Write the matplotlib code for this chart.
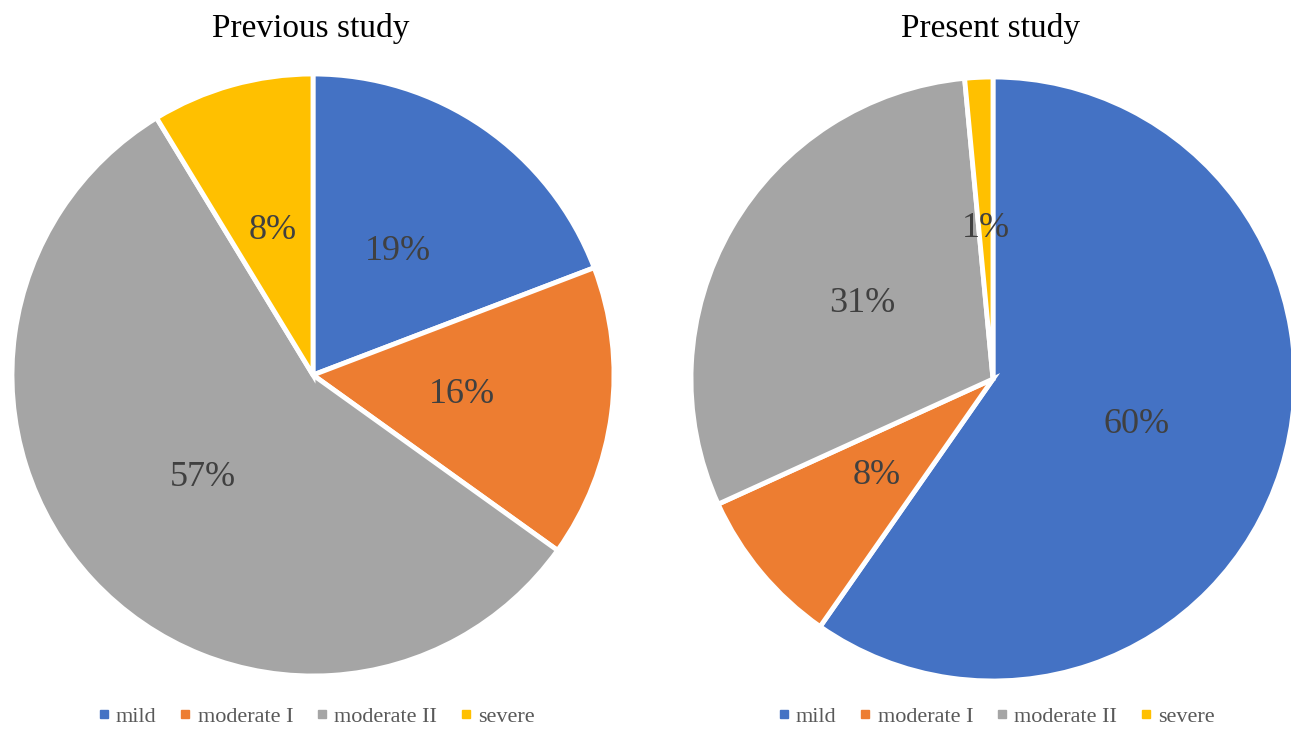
import matplotlib
matplotlib.use("Agg")
import numpy as np
import matplotlib.pyplot as plt
from matplotlib.lines import Line2D

plt.rcParams['font.family'] = ['Liberation Serif', 'DejaVu Serif']

categories = ["mild", "moderate I", "moderate II", "severe"]
colors = ["#4472C4", "#ED7D31", "#A5A5A5", "#FFC000"]

previous_values = [19.2, 15.7, 56.4, 8.7]
previous_labels = ["19%", "16%", "57%", "8%"]

present_values = [59.7, 8.5, 30.3, 1.5]
present_labels = ["60%", "8%", "31%", "1%"]

W, H = 1291, 729
fig = plt.figure(figsize=(W / 100, H / 100), dpi=100)


def draw(cx, cy, r, values, labels, title, title_x, legend_cx):
    ax = fig.add_axes([(cx - r) / W, (H - cy - r) / H, 2 * r / W, 2 * r / H])
    wedges, _ = ax.pie(values, colors=colors, startangle=90, counterclock=False,
                       wedgeprops=dict(edgecolor="white", linewidth=3.5))
    for w, lab in zip(wedges, labels):
        ang = np.deg2rad((w.theta1 + w.theta2) / 2)
        ax.text(0.5 * np.cos(ang), 0.5 * np.sin(ang), lab, ha="center", va="center",
                fontsize=26, color="#404040")
    ax.set_xlim(-1, 1)
    ax.set_ylim(-1, 1)
    ax.set_aspect("equal")
    ax.axis("off")
    fig.text(title_x / W, 1 - 29 / H, title, ha="center", va="center", fontsize=24, color="#000000")
    handles = [Line2D([], [], marker="s", linestyle="none", markersize=6,
                      markerfacecolor=c, markeredgecolor=c) for c in colors]
    fig.legend(handles, categories, loc="center", bbox_to_anchor=(legend_cx / W, 1 - 717 / H),
               ncol=4, frameon=False, fontsize=16, handlelength=0.6, handletextpad=0.25,
               columnspacing=1.0, labelcolor="#595959")


draw(313, 375, 301, previous_values, previous_labels, "Previous study", 311, 316)
draw(993, 379, 302, present_values, present_labels, "Present study", 991, 996)

fig.savefig("out.png", dpi=100)
